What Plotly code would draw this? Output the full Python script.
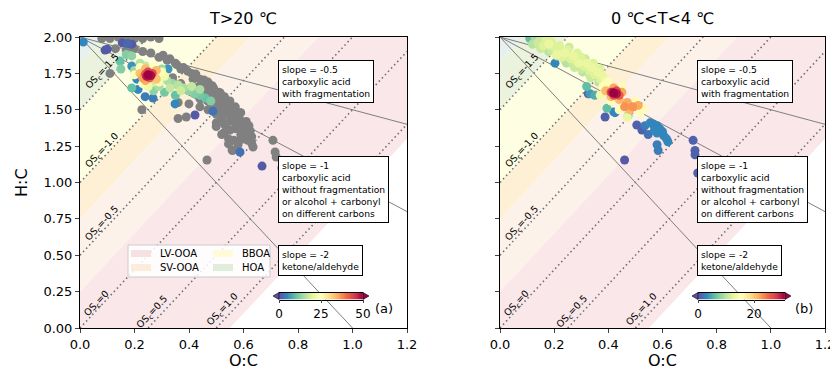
import plotly.graph_objects as go

# ---------------- data ----------------
# Left panel (T>20 C): grey points (all data) and density-coloured points
L_GRAY_X = [0.08,0.11,0.14,0.17,0.20,0.23,0.26,0.29,
            0.13,0.17,0.20,0.23,0.26,0.29,0.32,0.35,0.38,0.41,0.44,0.47,0.49,0.51,0.53,0.55,0.57,0.59,0.61,0.62,
            0.30,0.34,0.37,0.40,0.43,0.46,0.48,0.50,0.52,0.54,0.56,
            0.36,0.40,0.44,0.47,0.50,0.52,0.50,0.53,0.55,0.57,0.59,0.60,0.62,0.63,0.58,0.56,0.60,0.62,
            0.11,0.227,0.36,0.39,0.587,0.708,0.716,0.72,0.466,0.558,0.635,0.52,0.545,
            0.305,0.33,0.355,0.37,0.395,0.425,0.415,0.455,0.445,0.46,0.485,0.475,0.49,0.515,0.505,0.52,
            0.535,0.545,0.54,0.555,0.565,0.575,0.57,0.585,0.595,0.605,0.61,0.625,0.63,0.50,0.53,0.565,
            0.44,0.47,0.43,0.46,0.49,0.52,0.55,0.575,0.60,0.615,0.59,0.545]
L_GRAY_Y = [1.99,1.99,2.00,1.99,1.99,1.99,2.00,1.99,
            1.92,1.91,1.92,1.90,1.89,1.86,1.84,1.82,1.79,1.75,1.71,1.69,1.65,1.62,1.59,1.56,1.52,1.48,1.42,1.39,
            1.76,1.72,1.68,1.64,1.62,1.58,1.55,1.52,1.50,1.47,1.44,
            1.55,1.54,1.52,1.50,1.47,1.44,1.41,1.40,1.36,1.37,1.33,1.30,1.31,1.27,1.26,1.22,1.36,1.34,
            1.75,1.50,1.44,1.45,1.48,1.29,1.21,1.175,1.155,1.223,1.244,1.33,1.30,
            1.875,1.85,1.81,1.78,1.765,1.745,1.71,1.705,1.68,1.645,1.665,1.625,1.60,1.615,1.575,1.545,
            1.565,1.53,1.495,1.455,1.51,1.475,1.425,1.44,1.405,1.38,1.35,1.355,1.315,1.385,1.345,1.29,
            1.575,1.56,1.655,1.615,1.585,1.48,1.42,1.39,1.41,1.29,1.295,1.265]

L_X = [0.092,0.10,0.155,0.175,0.19,0.422,0.488,0.587,0.668,0.741,
       0.012,0.323,0.209,0.213,0.239,0.268,0.349,0.19,
       0.147,0.17,0.19,0.15,0.19,0.20,0.22,0.30,0.32,0.34,0.36,0.38,0.40,0.42,0.44,0.46,0.48,
       0.33,0.37,0.41,0.44,0.29,0.27,0.31,0.35,0.26,0.30,0.24,
       0.20,0.22,0.27,0.30,0.29,0.23,0.25,0.31,
       0.22,0.24,0.28,0.28,0.24,0.23,
       0.24,0.265,0.255,0.25,
       0.25,0.26,0.245]
L_Y = [1.91,1.915,1.96,1.955,1.95,1.464,1.49,1.21,1.113,1.10,
       1.966,1.78,1.71,1.64,1.59,1.58,1.54,1.80,
       1.835,1.88,1.87,1.78,1.65,1.77,1.82,1.72,1.70,1.68,1.67,1.65,1.63,1.61,1.60,1.58,1.56,
       1.65,1.63,1.66,1.64,1.66,1.63,1.62,1.60,1.69,1.78,1.80,
       1.74,1.79,1.80,1.76,1.69,1.68,1.66,1.73,
       1.75,1.78,1.77,1.71,1.70,1.72,
       1.745,1.75,1.72,1.76,
       1.74,1.735,1.73]
L_C = [1,1,1,2,1,1,3,3,1,2,
       5,6,5,5,4,4,5,6,
       10,12,13,12,10,14,16,16,15,14,16,15,13,12,11,10,12,
       17,18,17,15,15,13,11,10,18,14,17,
       24,25,25,24,23,24,22,22,
       33,34,34,33,35,36,
       42,43,42,44,
       50,49,48]

# Right panel (0 C<T<4 C): density-coloured points
R_X = [0.11,0.13,0.15,0.17,0.14,0.16,0.18,0.20,0.19,0.22,0.21,0.24,0.23,0.25,0.26,0.27,0.28,0.29,0.30,
       0.31,0.32,0.33,0.34,0.35,0.36,0.37,0.38,0.39,0.30,0.27,0.24,0.33,
       0.12,0.15,0.18,0.21,0.245,0.275,0.305,0.335,0.365,0.395,0.19,0.22,0.255,0.285,0.315,0.345,0.37,
       0.203,0.32,0.326,0.35,0.332,0.395,0.425,0.42,0.473,
       0.388,0.505,0.524,0.46,0.713,0.72,0.72,0.73,0.547,
       0.554,0.565,0.58,0.59,0.60,0.605,0.615,0.62,0.58,0.57,0.58,0.584,0.535,
       0.38,0.40,0.45,0.37,0.41,0.47,0.517,0.50,0.44,0.53,
       0.39,0.42,0.45,0.41,0.44,0.47,0.49,0.51,0.48,0.46,
       0.41,0.43,0.44,0.42,
       0.42,0.43,0.415]
R_Y = [1.99,1.99,1.985,1.98,1.96,1.94,1.95,1.93,1.91,1.90,1.88,1.89,1.86,1.91,1.85,1.87,1.84,1.82,1.86,
       1.80,1.82,1.77,1.79,1.74,1.76,1.71,1.73,1.69,1.78,1.81,1.84,1.74,
       1.95,1.92,1.90,1.87,1.82,1.79,1.76,1.72,1.69,1.66,1.97,1.94,1.93,1.89,1.85,1.82,1.78,
       1.82,1.66,1.61,1.60,1.61,1.51,1.48,1.485,1.46,
       1.45,1.395,1.36,1.155,1.29,1.22,1.19,1.065,1.33,
       1.41,1.40,1.39,1.37,1.35,1.32,1.30,1.28,1.34,1.36,1.26,1.22,1.39,
       1.66,1.69,1.66,1.60,1.56,1.45,1.48,1.56,1.50,1.51,
       1.63,1.65,1.62,1.59,1.57,1.55,1.52,1.53,1.50,1.52,
       1.62,1.63,1.60,1.60,
       1.615,1.61,1.62]
R_C = [6,9,11,12,11,12,13,12,11,12,13,13,12,12,12,13,12,13,12,
       12,13,12,13,12,13,12,13,14,11,11,10,11,
       10,11,10,11,10,11,10,11,10,11,12,12,11,12,11,12,12,
       3,6,1,5,4,6,3,3,7,
       1,1,1,0.5,1,1,1,1,2,
       3,3,3,3,3,3,3,3,3,3,2.5,2.5,2.5,
       15,15,16,14,15,13,15,16,15,16,
       21,22,22,21,21,22,23,22,21,23,
       27,27,26,27,
       31,30,29]

L_CMAX, R_CMAX = 50, 31
L_CB_TICKS, R_CB_TICKS = [0, 25, 50], [0, 20]

OS_LEVELS = [-1.5, -1.0, -0.5, 0.0, 0.5, 1.0]
OS_TEXT = ["-1.5", "-1.0", "-0.5", "0", "0.5", "1.0"]
OS_LABEL_X = [0.084, 0.081, 0.081, 0.062, 0.264, 0.525]
OS_LABEL_Y = [1.76, 1.223, 0.72, 0.17, 0.11, 0.124]
SLOPES = [-0.5, -1.0, -2.0]
BOX_TEXT = ["slope = -0.5<br>carboxylic acid<br>with fragmentation",
            "slope = -1<br>carboxylic acid<br>without fragmentation<br>or alcohol + carbonyl<br>on different carbons",
            "slope = -2<br>ketone/aldehyde"]
BOX_TOP = [1.842, 1.182, 0.570]
# background bands (OS_c ranges)
BANDS = [(-2.0, -1.83, "#e6f0ee"), (-1.83, -1.5, "#ebf3de"), (-1.5, -1.0, "#fefee2"),
         (-1.0, -0.75, "#fdf0d4"), (-0.75, -0.25, "#fdf2ea"), (-0.25, 1.1, "#f9e7e9")]
LEGEND_NAMES = ["LV-OOA", "SV-OOA", "BBOA", "HOA"]
LEGEND_COLORS = ["#f5e0e2", "#fdebdc", "#fefbd6", "#e0eddb"]

# ---------------- layout geometry ----------------
OFF = 8                 # page body margin
W, H = 838 - OFF, 373 - OFF
Y_TOP, Y_BOT = 37, 328


def pxx(p):
    return (p - OFF) / W


def pxy(p):
    return 1 - (p - OFF) / H


def clip(poly, a, b, c):
    # keep a*x + b*y <= c
    out = []
    n = len(poly)
    for i in range(n):
        p, q = poly[i], poly[(i + 1) % n]
        fp = a * p[0] + b * p[1] - c
        fq = a * q[0] + b * q[1] - c
        if fp <= 0:
            out.append(p)
        if fp * fq < 0:
            t = fp / (fp - fq)
            out.append((p[0] + t * (q[0] - p[0]), p[1] + t * (q[1] - p[1])))
    return out


def band_poly(lo, hi):
    poly = [(0, 0), (1.2, 0), (1.2, 2), (0, 2)]
    poly = clip(poly, -2, 1, -lo)   # 2x - y >= lo
    poly = clip(poly, 2, -1, hi)    # 2x - y <= hi
    return poly


fig = go.Figure()
spectral = "Spectral_r"

for xa, ya in [("x", "y"), ("x2", "y2")]:
    for lo, hi, col in BANDS:
        pts = band_poly(lo, hi)
        fig.add_trace(go.Scatter(x=[p[0] for p in pts] + [pts[0][0]], y=[p[1] for p in pts] + [pts[0][1]],
                                 mode="lines", fill="toself", fillcolor=col, line=dict(width=0),
                                 hoverinfo="skip", showlegend=False, xaxis=xa, yaxis=ya))
    for k in OS_LEVELS:
        x0 = max(0, k / 2)
        x1 = min(1.2, (2 + k) / 2)
        fig.add_trace(go.Scatter(x=[x0, x1], y=[2 * x0 - k, 2 * x1 - k], mode="lines",
                                 line=dict(color="#707070", width=1.6, dash="1.5px,3px"),
                                 hoverinfo="skip", showlegend=False, xaxis=xa, yaxis=ya))
    for s in SLOPES:
        x1 = min(1.2, -2 / s)
        fig.add_trace(go.Scatter(x=[0, x1], y=[2, 2 + s * x1], mode="lines",
                                 line=dict(color="#7f7f7f", width=1),
                                 hoverinfo="skip", showlegend=False, xaxis=xa, yaxis=ya))

# grey points, left
fig.add_trace(go.Scatter(x=L_GRAY_X, y=L_GRAY_Y, mode="markers",
                         marker=dict(size=9, color="#808080", line=dict(width=0)),
                         showlegend=False, xaxis="x", yaxis="y"))


def sorted_pts(xs, ys, cs):
    idx = sorted(range(len(cs)), key=lambda i: cs[i])
    return [xs[i] for i in idx], [ys[i] for i in idx], [cs[i] for i in idx]


lx, ly, lc = sorted_pts(L_X, L_Y, L_C)
rx, ry, rc = sorted_pts(R_X, R_Y, R_C)

fig.add_trace(go.Scatter(x=lx, y=ly, mode="markers",
                         marker=dict(size=9, color=lc, colorscale=spectral, cmin=0, cmax=L_CMAX,
                                     line=dict(width=0), showscale=False),
                         showlegend=False, xaxis="x", yaxis="y"))
fig.add_trace(go.Scatter(x=rx, y=ry, mode="markers",
                         marker=dict(size=9, color=rc, colorscale=spectral, cmin=0, cmax=R_CMAX,
                                     line=dict(width=0), showscale=False),
                         showlegend=False, xaxis="x2", yaxis="y2"))

# colour bars drawn as thin heatmaps on their own small axes
for ax, cmax in [("3", L_CMAX), ("4", R_CMAX)]:
    steps = 200
    zs = [cmax * i / steps for i in range(steps + 1)]
    fig.add_trace(go.Heatmap(x=zs, y=[0], z=[zs], colorscale=spectral, zmin=0, zmax=cmax, showscale=False,
                             hoverinfo="skip", xaxis="x" + ax, yaxis="y" + ax))

font = dict(family="DejaVu Sans", color="black")
axis_common = dict(range=[0, 1.2], dtick=0.2, tickformat=".1f", ticks="outside", ticklen=4, tickwidth=1,
                   showline=True, linecolor="black", linewidth=1, mirror=True, showgrid=False, zeroline=False,
                   automargin=False, tickfont=dict(family="DejaVu Sans", size=13, color="black"))
yaxis_common = dict(range=[0, 2], dtick=0.25, tickformat=".2f", ticks="outside", ticklen=4, tickwidth=1,
                    showline=True, linecolor="black", linewidth=1, mirror=True, showgrid=False, zeroline=False,
                    automargin=False, tickfont=dict(family="DejaVu Sans", size=13, color="black"))
cb_x = dict(ticks="outside", ticklen=3, tickwidth=0.8, showline=True, linecolor="black", linewidth=0.6,
            mirror=True, showgrid=False, zeroline=False, automargin=False,
            tickfont=dict(family="DejaVu Sans", size=12, color="black"))
cb_y = dict(range=[-0.5, 0.5], showticklabels=False, ticks="", showgrid=False, zeroline=False, showline=False,
            automargin=False)

fig.update_layout(
    width=W, height=H, autosize=False, margin=dict(l=0, r=0, t=0, b=0, pad=0, autoexpand=False),
    paper_bgcolor="white", plot_bgcolor="white", showlegend=False,
    xaxis=dict(domain=[pxx(80), pxx(407)], anchor="y", **axis_common),
    yaxis=dict(domain=[pxy(Y_BOT), pxy(Y_TOP)], anchor="x", **yaxis_common),
    xaxis2=dict(domain=[pxx(500), pxx(825)], anchor="y2", **axis_common),
    yaxis2=dict(domain=[pxy(Y_BOT), pxy(Y_TOP)], anchor="x2", showticklabels=False, **yaxis_common),
    xaxis3=dict(domain=[pxx(279), pxx(363)], anchor="y3", range=[0, L_CMAX], tickvals=L_CB_TICKS, **cb_x),
    yaxis3=dict(domain=[pxy(299.5), pxy(292.5)], anchor="x3", **cb_y),
    xaxis4=dict(domain=[pxx(698), pxx(785)], anchor="y4", range=[0, R_CMAX], tickvals=R_CB_TICKS, **cb_x),
    yaxis4=dict(domain=[pxy(299.5), pxy(292.5)], anchor="x4", **cb_y),
)

ann = []
shapes = []
for xa, ya in [("x", "y"), ("x2", "y2")]:
    for k, t, lxp, lyp in zip(OS_LEVELS, OS_TEXT, OS_LABEL_X, OS_LABEL_Y):
        ann.append(dict(x=lxp, y=lyp, xref=xa, yref=ya, xanchor="center", yanchor="middle",
                        text="OS<sub>c</sub>=" + t, showarrow=False,
                        textangle=-47, font=dict(size=9.5, **font)))
    for txt, top in zip(BOX_TEXT, BOX_TOP):
        ann.append(dict(x=0.727, y=top, xref=xa, yref=ya, xanchor="left", yanchor="top", text=txt, align="left",
                        showarrow=False, bgcolor="white", bordercolor="black", borderwidth=1, borderpad=3,
                        font=dict(size=9.2, **font)))

# titles and axis labels
for cx, title in [(243, "T>20 ℃"), (662, "0 ℃<T<4 ℃")]:
    ann.append(dict(x=pxx(cx), y=pxy(18), xref="paper", yref="paper", xanchor="center", yanchor="middle",
                    text=title, showarrow=False, font=dict(size=16, **font)))
    ann.append(dict(x=pxx(cx), y=pxy(360), xref="paper", yref="paper", xanchor="center", yanchor="middle",
                    text="O:C", showarrow=False, font=dict(size=16, **font)))
ann.append(dict(x=pxx(22), y=pxy(183), xref="paper", yref="paper", xanchor="center", yanchor="middle",
                text="H:C", showarrow=False, textangle=-90, font=dict(size=16, **font)))
ann.append(dict(x=pxx(384), y=pxy(308), xref="paper", yref="paper", xanchor="center", yanchor="middle",
                text="(a)", showarrow=False, font=dict(size=13, **font)))
ann.append(dict(x=pxx(804), y=pxy(308), xref="paper", yref="paper", xanchor="center", yanchor="middle",
                text="(b)", showarrow=False, font=dict(size=13, **font)))

# colorbar extension triangles
for x0, x1 in [(279, 363), (698, 785)]:
    shapes.append(dict(type="path", xref="paper", yref="paper",
                       path=f"M {pxx(x0)} {pxy(292.5)} L {pxx(x0-6)} {pxy(296)} L {pxx(x0)} {pxy(299.5)} Z",
                       fillcolor="#5e4fa2", line=dict(width=0.6, color="black")))
    shapes.append(dict(type="path", xref="paper", yref="paper",
                       path=f"M {pxx(x1)} {pxy(292.5)} L {pxx(x1+6)} {pxy(296)} L {pxx(x1)} {pxy(299.5)} Z",
                       fillcolor="#9e0142", line=dict(width=0.6, color="black")))

# manual legend (left panel)
shapes.append(dict(type="rect", xref="paper", yref="paper", x0=pxx(128), x1=pxx(270), y0=pxy(277), y1=pxy(245),
                   fillcolor="rgba(255,255,255,0.85)", line=dict(color="#cccccc", width=1)))
leg_pos = [(131, 253.5), (131, 267.5), (213, 253.5), (213, 267.5)]
for name, col, (px0, py0) in zip(LEGEND_NAMES, LEGEND_COLORS, leg_pos):
    shapes.append(dict(type="rect", xref="paper", yref="paper", x0=pxx(px0), x1=pxx(px0 + 20),
                       y0=pxy(py0 + 3.5), y1=pxy(py0 - 3.5), fillcolor=col, line=dict(width=0)))
    ann.append(dict(x=pxx(px0 + 27), y=pxy(py0), xref="paper", yref="paper", xanchor="left", yanchor="middle",
                    text=name, showarrow=False, font=dict(size=10, **font)))

fig.update_layout(annotations=ann, shapes=shapes)
fig.write_html("out.html")
